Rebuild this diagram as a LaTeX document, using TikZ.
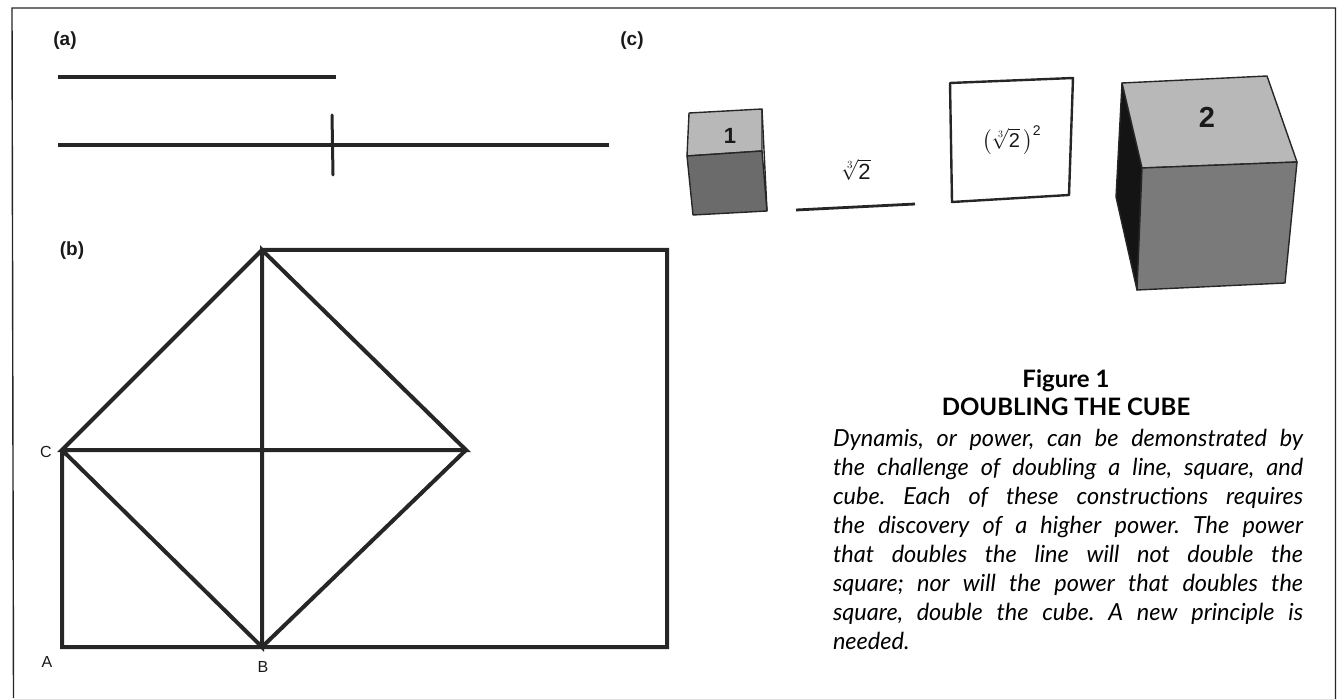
\documentclass[tikz,border=0pt]{standalone}
\usepackage{amsmath}
\usepackage{fontspec}
\setmainfont{Lato}
\setsansfont{Liberation Sans}
\usetikzlibrary{
  positioning
}

\begin{document}
\begin{tikzpicture}[
  x=1pt, y=-1pt,
  every node/.style = {inner sep=0pt, outer sep=0pt, text=black!90},
  panel/.style = {font=\sffamily\bfseries\fontsize{19}{22}\selectfont},
  point/.style = {font=\sffamily\fontsize{16}{19}\selectfont},
  face/.style = {font=\sffamily\bfseries\fontsize{29}{32}\selectfont},
  root/.style = {font=\sffamily\fontsize{22}{24}\selectfont},
  heavy/.style = {line width=4pt, draw=black!85},
  segment/.style = {line width=4.5pt, draw=black!85},
  thin edge/.style = {line width=1.4pt, draw=black!85, line join=round}]
  \useasboundingbox (0,0) rectangle (1337,700);
  \draw[line width=1.4pt, black!85] (13.5,698) -- (12,8) -- (1335.5,8) -- (1335.5,700);
  \draw[line width=.8pt, black!12] (13.5,699) -- (1335.5,699);

  \node[panel] (a) at (65,41) {(a)};
  \node[panel] (b) at (72,251) {(b)};
  \node[panel] (c) at (632,41) {(c)};

  % doubling a line
  \coordinate (p1) at (58,77);
  \coordinate (p2) at (336,77);
  \coordinate (p3) at (58,145);
  \coordinate (p4) at (609,145);
  \coordinate (p5) at (332,115);
  \coordinate (p6) at (333,175);
  \draw[segment] (p1) -- (p2);
  \draw[segment] (p3) -- (p4);
  \draw[segment, line width=3pt, line cap=round] (p5) -- (p6);

  % doubling a square
  \node[point] (ptA) at (47,662) {A};
  \node[point] (ptB) at (263,667) {B};
  \node[point] (ptC) at (46,452) {C};
  \coordinate (A) at (62,647);
  \coordinate (B) at (262,647);
  \coordinate (C) at (62,450);
  \coordinate (D) at (262,250);
  \coordinate (E) at (466,450);
  \coordinate (F) at (667,250);
  \coordinate (G) at (667,647);
  \draw[heavy, line join=miter] (C) -- (A) -- (G) -- (F) -- (D) -- (C) -- (E) -- (D) -- (B) -- (C);
  \draw[heavy] (B) -- (E);

  % small cube
  \coordinate (s1) at (689,113);
  \coordinate (s2) at (762,109);
  \coordinate (s3) at (762,151);
  \coordinate (s4) at (687,156);
  \coordinate (s5) at (693,215);
  \coordinate (s6) at (767,211);
  \filldraw[thin edge, fill=black!28] (s1) -- (s2) -- (s3) -- (s4) -- cycle;
  \filldraw[thin edge, fill=black!58] (s4) -- (s3) -- (s6) -- (s5) -- cycle;
  \draw[thin edge] (s2) -- (s6);
  \node[face, font=\sffamily\bfseries\fontsize{22}{24}\selectfont] (one) at (730,136) {1};

  % line and square
  \node[root] (cbrt) at (856,170) {$\sqrt[3]{\text{2}}$};
  \coordinate (l1) at (796,210);
  \coordinate (l2) at (915,204);
  \draw[heavy, line width=2.8pt] (l1) -- (l2);
  \coordinate (q1) at (950,83);
  \coordinate (q2) at (1073,78);
  \coordinate (q3) at (1069,195);
  \coordinate (q4) at (952,202);
  \draw[thin edge, line width=2.4pt] (q1) -- (q2) -- (q3) -- (q4) -- cycle;
  \node[root, font=\sffamily\fontsize{20}{24}\selectfont] (sq) at (1012,140) {$\bigl(\sqrt[3]{\text{2}}\,\bigr)^{\text{2}}$};

  % big cube
  \coordinate (t1) at (1122,83);
  \coordinate (t2) at (1267,76);
  \coordinate (t3) at (1297,162);
  \coordinate (t4) at (1142,168);
  \coordinate (t5) at (1137,290);
  \coordinate (t6) at (1285,283);
  \coordinate (t7) at (1116,197);
  \filldraw[thin edge, fill=black!92] (t1) -- (t4) -- (t5) -- (t7) -- cycle;
  \filldraw[thin edge, fill=black!28] (t1) -- (t2) -- (t3) -- (t4) -- cycle;
  \filldraw[thin edge, fill=black!52] (t4) -- (t3) -- (t6) -- (t5) -- cycle;
  \node[face] (two) at (1207,117) {2};

  % caption
  \node[align=center, font=\bfseries\fontsize{24}{28}\selectfont, text=black] (title) at (1066,393) {Figure 1\\DOUBLING THE CUBE};
  \node[below=13pt of title.south, xshift=2pt, anchor=north, text width=470pt, align=justify, text=black,
    font=\frenchspacing\itshape\fontsize{23.5}{29}\selectfont] (body) {Dynamis, or power, can be demonstrated by\linebreak
    the challenge of doubling a line, square, and\linebreak
    cube. Each of these constructions requires\linebreak
    the discovery of a higher power. The power\linebreak
    that doubles the line will not double the\linebreak
    square; nor will the power that doubles the\linebreak
    square, double the cube. A new principle is\linebreak
    needed.};
\end{tikzpicture}
\end{document}
